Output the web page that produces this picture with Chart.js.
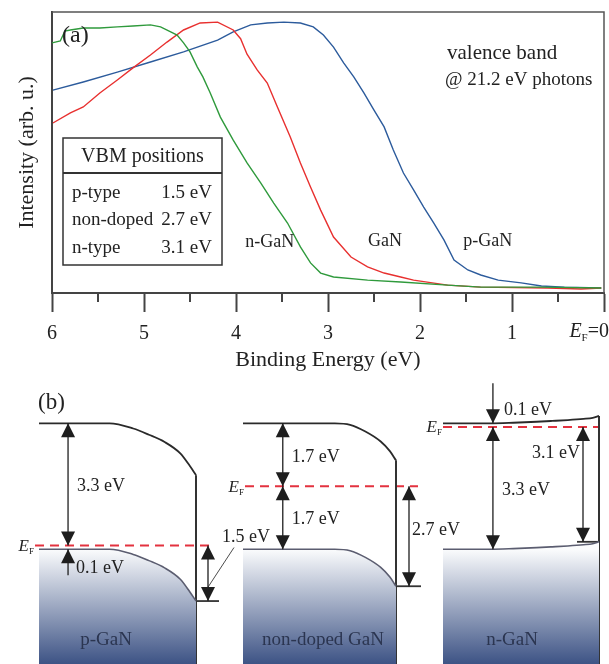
<!DOCTYPE html>
<html>
<head>
<meta charset="utf-8">
<title>GaN valence band spectra and band diagrams</title>
<script src="https://cdn.jsdelivr.net/npm/chart.js@4.4.1/dist/chart.umd.min.js"></script>
<style>
  html, body { margin: 0; padding: 0; background: #fff; }
  #wrap { position: relative; width: 609px; height: 664px; }
  #spectra { position: absolute; left: 0; top: 0; }
  #bands { position: absolute; left: 0; top: 380px; }
</style>
</head>
<body>
<div id="wrap">
  <canvas id="spectra" width="609" height="380"></canvas>
  <canvas id="bands" width="609" height="284"></canvas>
</div>
<script>
// (a) valence band spectra, binding energy (eV) vs intensity (arb. u., 0-100)
const nGaNEnergy = [6.00, 5.91, 5.86, 5.80, 5.66, 5.48, 5.29, 5.12, 4.93, 4.82, 4.71, 4.64, 4.57, 4.50, 4.42, 4.36, 4.28, 4.17, 4.03, 3.88, 3.73, 3.59, 3.44, 3.30, 3.19, 3.08, 2.94, 2.57, 2.21, 1.70, 1.34, 0.68, 0.03];
const nGaNIntensity = [89.0, 89.7, 93.2, 93.6, 94.3, 94.3, 94.7, 95.0, 95.4, 94.7, 92.9, 91.8, 89.0, 85.8, 80.4, 76.9, 71.2, 62.6, 54.4, 46.3, 39.1, 32.0, 24.9, 16.4, 10.7, 7.1, 5.7, 4.6, 3.9, 2.8, 2.1, 2.1, 1.8];

const gaNEnergy = [5.99, 5.80, 5.66, 5.48, 5.29, 5.12, 4.93, 4.75, 4.57, 4.39, 4.20, 4.03, 3.95, 3.88, 3.77, 3.66, 3.55, 3.41, 3.30, 3.19, 3.08, 2.94, 2.75, 2.57, 2.39, 2.21, 2.07, 1.70, 1.34, 0.61, 0.25, 0.03];
const gaNIntensity = [60.5, 64.1, 66.2, 71.2, 75.8, 80.1, 84.7, 89.3, 93.6, 96.1, 96.4, 93.6, 90.5, 85.0, 79.4, 74.7, 66.2, 55.5, 46.3, 37.7, 29.5, 19.9, 12.8, 9.3, 7.1, 5.7, 4.6, 2.8, 2.1, 1.8, 1.4, 1.8];

const pGaNEnergy = [5.99, 5.66, 5.29, 4.93, 4.57, 4.20, 4.03, 3.84, 3.66, 3.48, 3.30, 3.16, 3.05, 2.94, 2.83, 2.72, 2.61, 2.50, 2.39, 2.29, 2.18, 2.07, 1.96, 1.85, 1.74, 1.63, 1.48, 1.34, 1.15, 0.90, 0.68, 0.43, 0.03];
const pGaNIntensity = [72.2, 75.1, 78.6, 82.2, 85.8, 90.0, 92.9, 95.4, 96.1, 96.4, 96.1, 94.7, 91.8, 87.5, 81.9, 76.9, 71.2, 65.1, 59.1, 50.9, 42.7, 36.7, 30.6, 24.9, 18.9, 11.7, 8.2, 6.4, 4.6, 3.6, 2.5, 2.1, 1.8];

// VBM positions below E_F
const vbmTypes = ['p-type', 'non-doped', 'n-type'];
const vbmPositions = [1.5, 2.7, 3.1];

// (b) band diagrams, energies in eV measured from the bulk valence band edge
const bandSamples = ['p-GaN', 'non-doped GaN', 'n-GaN'];
const cbAboveEf = [3.3, 1.7, 0.1];
const efAboveVb = [0.1, 1.7, 3.3];
// band bending profile: depth (0 = bulk, 1 = surface) and share of the total bend
const bendDepth = [0, 0.3, 0.45, 0.6, 0.7, 0.8, 0.9, 0.96, 1];
const bendShare = [
  [0, 0, 0, 0.10, 0.22, 0.36, 0.58, 0.82, 1],
  [0, 0, 0, 0, 0.04, 0.22, 0.49, 0.75, 1],
  [0, 0, 0.08, 0.21, 0.32, 0.44, 0.60, 0.74, 1]
];

const serif = "'Liberation Serif', 'Times New Roman', serif";
const ink = '#222';

function label(ctx, str, x, y, size, align = 'left', style = '', color = ink) {
  ctx.font = `${style} ${size}px ${serif}`;
  ctx.fillStyle = color;
  ctx.textAlign = align;
  ctx.textBaseline = 'middle';
  ctx.fillText(str, x, y);
}

// italic E with subscript F, right edge at x
function efLabel(ctx, x, y, size) {
  const sub = Math.round(size * 0.55);
  ctx.font = `${sub}px ${serif}`;
  const wF = ctx.measureText('F').width;
  label(ctx, 'F', x, y + size * 0.3, sub, 'right');
  label(ctx, 'E', x - wF, y, size, 'right', 'italic');
}

const toPoints = (xs, ys) => xs.map((x, i) => ({ x, y: ys[i] }));

const spectraNotes = {
  id: 'spectraNotes',
  afterDraw(chart) {
    const { ctx, chartArea: ca, scales: { x, y } } = chart;
    ctx.save();

    // frame top and right
    ctx.strokeStyle = '#555';
    ctx.lineWidth = 1.5;
    ctx.beginPath();
    ctx.moveTo(ca.left, ca.top);
    ctx.lineTo(ca.right, ca.top);
    ctx.lineTo(ca.right, ca.bottom);
    ctx.stroke();

    // minor ticks every 0.5 eV
    ctx.strokeStyle = '#444';
    ctx.lineWidth = 2;
    for (let v = 0.5; v < 6; v += 1) {
      const px = x.getPixelForValue(v);
      ctx.beginPath();
      ctx.moveTo(px, ca.bottom);
      ctx.lineTo(px, ca.bottom + 9);
      ctx.stroke();
    }

    // "E_F=0" tick label
    const zx = x.getPixelForValue(0);
    const ly = ca.bottom + 39;
    ctx.font = `20px ${serif}`;
    const w0 = ctx.measureText('0').width;
    const wEq = ctx.measureText('=0').width;
    label(ctx, '=0', zx + w0 / 2, ly, 20, 'right');
    efLabel(ctx, zx + w0 / 2 - wEq, ly, 20);

    label(ctx, '(a)', ca.left + 10, ca.top + 24, 24);
    label(ctx, 'valence band', ca.left + 395, ca.top + 41, 21);
    label(ctx, '@ 21.2 eV photons', ca.left + 393, ca.top + 68, 19);

    // curve names
    label(ctx, 'n-GaN', x.getPixelForValue(3.9), y.getPixelForValue(18.1), 18);
    label(ctx, 'GaN', x.getPixelForValue(2.565), y.getPixelForValue(18.5), 18);
    label(ctx, 'p-GaN', x.getPixelForValue(1.53), y.getPixelForValue(18.5), 18);

    // VBM table
    const bx = ca.left + 11, by = ca.top + 126, bw = 159, bh = 127;
    ctx.strokeStyle = '#333';
    ctx.lineWidth = 1.5;
    ctx.strokeRect(bx, by, bw, bh);
    ctx.lineWidth = 2;
    ctx.beginPath();
    ctx.moveTo(bx, by + 35);
    ctx.lineTo(bx + bw, by + 35);
    ctx.stroke();
    label(ctx, 'VBM positions', bx + bw / 2, by + 19, 20, 'center');
    vbmTypes.forEach((t, i) => {
      const ry = by + 55 + i * 27.5;
      label(ctx, t, bx + 9, ry, 19);
      label(ctx, `${vbmPositions[i].toFixed(1)} eV`, bx + bw - 10, ry, 19, 'right');
    });

    ctx.restore();
  }
};

new Chart(document.getElementById('spectra'), {
  type: 'line',
  data: {
    datasets: [
      { label: 'n-GaN', data: toPoints(nGaNEnergy, nGaNIntensity), borderColor: '#2f9a3c' },
      { label: 'GaN', data: toPoints(gaNEnergy, gaNIntensity), borderColor: '#e8302f' },
      { label: 'p-GaN', data: toPoints(pGaNEnergy, pGaNIntensity), borderColor: '#2c5b9c' }
    ]
  },
  options: {
    responsive: false,
    animation: false,
    layout: { padding: { top: 12, right: 5, left: 0, bottom: 0 } },
    elements: { point: { radius: 0 }, line: { borderWidth: 1.4, tension: 0 } },
    plugins: { legend: { display: false }, tooltip: { enabled: false } },
    scales: {
      x: {
        type: 'linear',
        min: 0,
        max: 6,
        reverse: true,
        ticks: {
          stepSize: 1,
          maxRotation: 0,
          autoSkip: false,
          padding: 10,
          color: ink,
          font: { family: serif, size: 20 },
          callback: v => (v === 0 ? '' : v)
        },
        grid: { drawOnChartArea: false, tickLength: 19, tickWidth: 2, tickColor: '#444' },
        border: { color: '#444', width: 2 },
        title: {
          display: true,
          text: 'Binding Energy (eV)',
          color: ink,
          font: { family: serif, size: 22 },
          padding: { top: 0, bottom: 7 }
        },
        afterFit(scale) {
          scale.height = 87;
          scale.paddingLeft = 0;
          scale.paddingRight = 0;
        }
      },
      y: {
        min: 0,
        max: 100,
        ticks: { display: false },
        grid: { drawOnChartArea: false, drawTicks: false },
        border: { color: '#444', width: 2 },
        title: {
          display: true,
          text: 'Intensity (arb. u.)',
          color: ink,
          font: { family: serif, size: 22 },
          padding: { top: 14, bottom: 0 }
        },
        afterFit(scale) { scale.width = 52; }
      }
    }
  },
  plugins: [spectraNotes]
});

// ---- (b) band diagrams ----
const Y_MIN = -3.1, Y_MAX = 4.57;
const blockSpan = [[39, 196], [243, 396], [443, 599]];
const bulkArrowAt = [0.185, 0.26, 0.32];
const surfArrowDx = [12, 13, -16];
const shelfSpan = [[0, 23], [0, 25], [-22, 0]];
const efSpan = [[-4, 19], [2, 22], [0, 0]];
const nameX = [106, 323, 512];

function valenceGradient(context) {
  const { chart } = context;
  const { chartArea, scales } = chart;
  if (!chartArea) return 'rgba(0,0,0,0)';
  const g = chart.ctx.createLinearGradient(0, scales.y.getPixelForValue(0), 0, chartArea.bottom);
  g.addColorStop(0, '#fbfcfd');
  g.addColorStop(1, '#3d5385');
  return g;
}

const levels = bandSamples.map((name, i) => {
  const ef = efAboveVb[i];
  const cb = ef + cbAboveEf[i];
  const sVb = ef - vbmPositions[i];
  return { ef, cb, vb: 0, sVb, sCb: sVb + cb };
});

const vbSets = [], lineSets = [];
levels.forEach((lv, i) => {
  const [L, R] = blockSpan[i];
  const at = d => L + d * (R - L);
  vbSets.push({
    data: bendDepth.map((d, k) => ({ x: at(d), y: lv.vb + bendShare[i][k] * (lv.sVb - lv.vb) })),
    borderColor: '#5b5d70',
    borderWidth: 1.6,
    fill: 'start',
    backgroundColor: valenceGradient,
    cubicInterpolationMode: 'monotone'
  });
  lineSets.push({
    data: bendDepth.map((d, k) => ({ x: at(d), y: lv.cb + bendShare[i][k] * (lv.sCb - lv.cb) })),
    borderColor: '#2a2a2a',
    borderWidth: 1.8,
    cubicInterpolationMode: 'monotone'
  });
  lineSets.push({
    data: [{ x: R, y: lv.sCb }, { x: R, y: Y_MIN }],
    borderColor: '#333',
    borderWidth: 2
  });
  lineSets.push({
    data: [{ x: R + shelfSpan[i][0], y: lv.sVb }, { x: R + shelfSpan[i][1], y: lv.sVb }],
    borderColor: '#333',
    borderWidth: 1.8
  });
  lineSets.push({
    data: [{ x: L + efSpan[i][0], y: lv.ef }, { x: R + efSpan[i][1], y: lv.ef }],
    borderColor: '#e3323f',
    borderWidth: 2.2,
    borderDash: [9, 6]
  });
});

function head(ctx, x, tipY, dir) {
  ctx.beginPath();
  ctx.moveTo(x, tipY);
  ctx.lineTo(x - 7, tipY - dir * 14);
  ctx.lineTo(x + 7, tipY - dir * 14);
  ctx.closePath();
  ctx.fill();
}

function shaft(ctx, x, y1, y2) {
  ctx.beginPath();
  ctx.moveTo(x, y1);
  ctx.lineTo(x, y2);
  ctx.stroke();
}

function doubleArrow(ctx, x, yTop, yBottom) {
  shaft(ctx, x, yTop, yBottom);
  head(ctx, x, yTop, -1);
  head(ctx, x, yBottom, 1);
}

const eV = v => `${v.toFixed(1)} eV`;

const bandNotes = {
  id: 'bandNotes',
  afterDatasetsDraw(chart) {
    const { ctx, scales: { y } } = chart;
    const Y = v => y.getPixelForValue(v);
    ctx.save();
    ctx.strokeStyle = '#1e1e1e';
    ctx.lineWidth = 1.3;

    label(ctx, '(b)', 38, 23, 23);

    levels.forEach((lv, i) => {
      const [L, R] = blockSpan[i];
      const ax = L + bulkArrowAt[i] * (R - L);
      ctx.fillStyle = '#1e1e1e';

      // conduction band to E_F
      if (cbAboveEf[i] < 0.5) {
        shaft(ctx, ax, Y(lv.cb) - 40, Y(lv.cb));
        head(ctx, ax, Y(lv.cb), 1);
        label(ctx, eV(cbAboveEf[i]), ax + 11, Y(lv.cb) - 13, 18);
      } else {
        doubleArrow(ctx, ax, Y(lv.cb), Y(lv.ef));
        label(ctx, eV(cbAboveEf[i]), ax + 9, (Y(lv.cb) + Y(lv.ef)) / 2 + 2, 18);
      }
      ctx.fillStyle = '#1e1e1e';

      // E_F to valence band
      if (efAboveVb[i] < 0.5) {
        shaft(ctx, ax, Y(lv.vb), Y(lv.vb) + 26);
        head(ctx, ax, Y(lv.vb), -1);
        label(ctx, eV(efAboveVb[i]), ax + 8, Y(lv.vb) + 19, 18);
      } else {
        doubleArrow(ctx, ax, Y(lv.ef), Y(lv.vb));
        label(ctx, eV(efAboveVb[i]), ax + 9, (Y(lv.ef) + Y(lv.vb)) / 2 + 2, 18);
      }
      ctx.fillStyle = '#1e1e1e';

      // E_F to surface valence band maximum
      const sx = R + surfArrowDx[i];
      doubleArrow(ctx, sx, Y(lv.ef), Y(lv.sVb));
      const surfText = eV(vbmPositions[i]);
      if (i === 0) {
        ctx.lineWidth = 0.8;
        ctx.beginPath();
        ctx.moveTo(sx, Y(lv.ef) + 0.75 * (Y(lv.sVb) - Y(lv.ef)));
        ctx.lineTo(sx + 26, Y(lv.ef) + 2);
        ctx.stroke();
        ctx.lineWidth = 1.3;
        label(ctx, surfText, sx + 14, Y(lv.ef) - 8, 18);
      } else if (i === 1) {
        label(ctx, surfText, sx + 3, (Y(lv.ef) + Y(lv.sVb)) / 2 - 6, 18);
      } else {
        label(ctx, surfText, sx - 3, Y(lv.ef) + 26, 18, 'right');
      }

      efLabel(ctx, L + efSpan[i][0] - 1, Y(lv.ef) + 1, 17);
      label(ctx, bandSamples[i], nameX[i], 260, 19, 'center', '', '#2b3550');
    });

    ctx.restore();
  }
};

new Chart(document.getElementById('bands'), {
  type: 'line',
  data: { datasets: [...vbSets, ...lineSets] },
  options: {
    responsive: false,
    animation: false,
    layout: { padding: 0 },
    elements: { point: { radius: 0 }, line: { tension: 0 } },
    plugins: { legend: { display: false }, tooltip: { enabled: false } },
    scales: {
      x: { type: 'linear', min: 0, max: 609, display: false },
      y: { min: Y_MIN, max: Y_MAX, display: false }
    }
  },
  plugins: [bandNotes]
});
</script>
</body>
</html>
